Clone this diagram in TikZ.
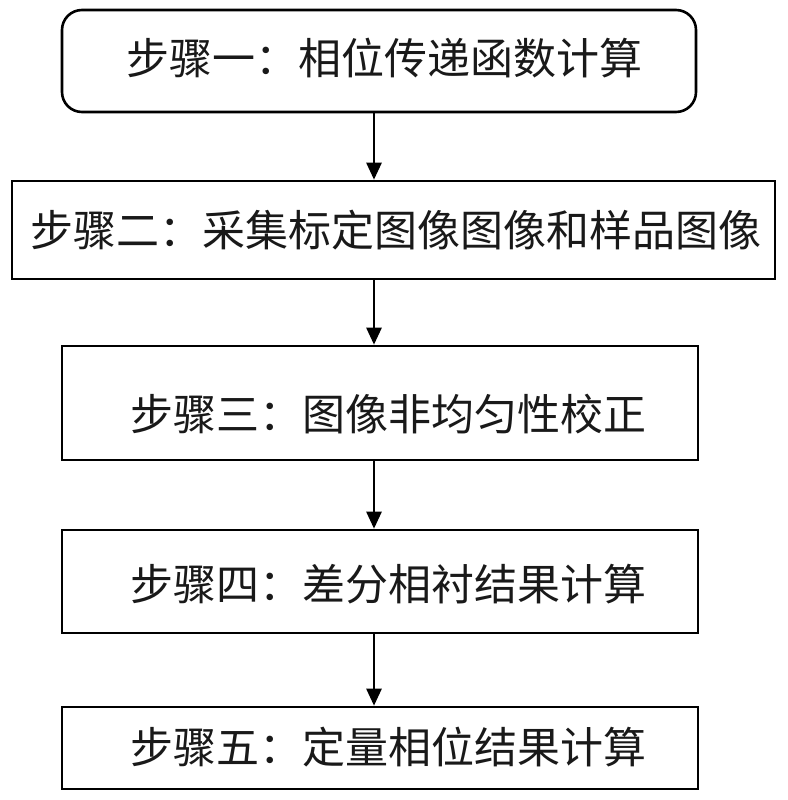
\documentclass[tikz,border=0pt]{standalone}
\usepackage{fontspec}
\newfontfamily\cjk{Noto Sans CJK SC}
\usetikzlibrary{arrows.meta}
\begin{document}
\begin{tikzpicture}[x=1pt,y=1pt,
  stepbox/.style={draw=black, line width=2.6pt, inner sep=0pt, fill=white},
  steptext/.style={font=\cjk\fontsize{43}{47}\selectfont, text=black!90, inner sep=0pt},
  arr/.style={line width=2.6pt, -{Triangle[width=15pt,length=17pt]}}]
\useasboundingbox (0,0) rectangle (787,-800);
\node[stepbox, rounded corners=20pt, minimum width=634pt, minimum height=102pt] (s1) at (379,-61) {};
\node[stepbox, minimum width=763pt, minimum height=98pt] (s2) at (393.5,-230) {};
\node[stepbox, minimum width=636pt, minimum height=114pt] (s3) at (380,-403) {};
\node[stepbox, minimum width=636pt, minimum height=103pt] (s4) at (380,-581.5) {};
\node[stepbox, minimum width=636pt, minimum height=82pt] (s5) at (380,-748) {};
\node[steptext] (t1) at (384,-58) {步骤一：相位传递函数计算};
\node[steptext] (t2) at (396,-230) {步骤二：采集标定图像图像和样品图像};
\node[steptext] (t3) at (388,-414) {步骤三：图像非均匀性校正};
\node[steptext] (t4) at (388,-584) {步骤四：差分相衬结果计算};
\node[steptext] (t5) at (388,-747) {步骤五：定量相位结果计算};
\coordinate (ax) at (374,0);
\draw[arr] (s1.south -| ax) -- (s2.north -| ax);
\draw[arr] (s2.south -| ax) -- (s3.north -| ax);
\draw[arr] (s3.south -| ax) -- (s4.north -| ax);
\draw[arr] (s4.south -| ax) -- (s5.north -| ax);
\end{tikzpicture}
\end{document}
